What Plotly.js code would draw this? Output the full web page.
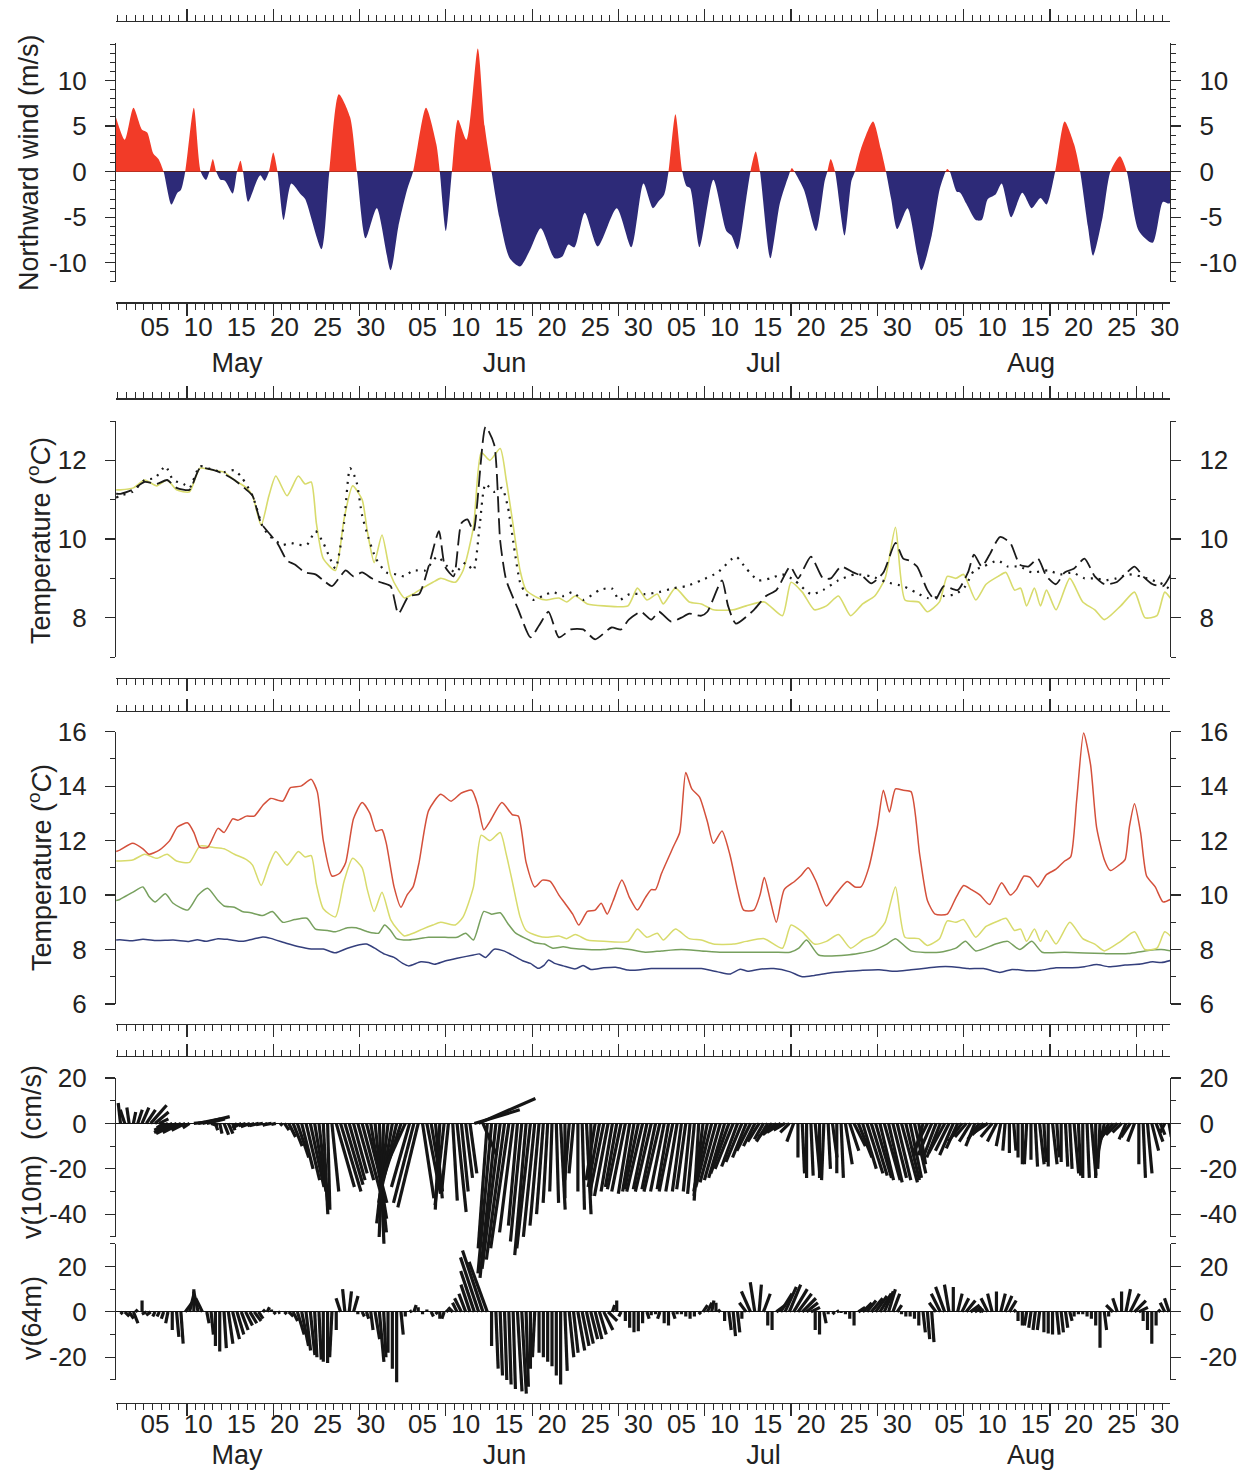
<!DOCTYPE html>
<html><head><meta charset="utf-8">
<script src="https://cdn.plot.ly/plotly-3.0.1.min.js"></script>
<style>html,body{margin:0;padding:0;background:#fff;}#chart{width:1251px;height:1473px;}</style>
</head><body><div id="chart"></div>
<script>
// ===================== DATA (t = days since 1 May) =====================
const windDay = [-0.6,0.5,1.5,2.5,3.1,3.8,4.4,5.0,5.9,6.6,
 7.0,7.5,8.5,9.3,9.9,10.3,10.7,11.1,11.6,12.1,
 13.0,13.5,13.9,14.2,14.8,15.8,16.2,16.7,17.2,17.7,
 18.2,18.9,19.8,20.9,21.4,23.3,24.2,25.3,26.6,27.4,
 28.4,29.7,31.3,32.2,33.2,33.9,35.4,36.6,37.0,37.7,
 38.4,39.1,40.1,41.4,42.2,43.0,43.9,45.1,46.3,47.5,
 48.7,50.3,51.2,51.9,52.6,53.8,55.3,57.5,59.2,60.6,
 61.7,62.4,63.0,63.5,64.3,65.1,65.6,66.0,67.1,68.7,
 70.2,70.8,71.5,72.5,73.0,73.6,74.1,75.3,76.4,77.4,
 77.8,78.1,79.2,80.6,81.6,81.9,82.3,82.8,83.9,84.7,
 85.1,85.8,87.2,88.1,88.7,89.3,90.0,91.2,92.8,94.0,
 94.9,95.6,95.8,96.1,96.9,97.3,98.0,99.1,99.8,100.5,
 101.4,102.1,103.2,104.5,105.6,106.6,107.3,108.3,109.4,110.5,
 111.2,112.1,112.7,113.8,114.7,115.8,116.6,118.0,119.6,120.8,
 121.5,122.0];
const windVal = [6.2,3.5,7.0,4.6,4.3,2.0,1.4,0,-3.6,-2.3,
 -2.0,0,7.0,0,-0.9,0,1.4,0,-0.9,-1.0,
 -2.4,0,1.2,0,-3.3,-1.0,-0.4,-1.0,0,2.1,
 0,-5.3,-1.3,-2.5,-3.0,-8.5,0,8.5,6.0,0,
 -7.3,-4.0,-10.8,-6.0,-2.0,0,7.0,3.0,0,-6.5,
 0,5.7,3.5,13.5,5.0,0,-5.0,-9.5,-10.4,-8.5,
 -6.2,-9.5,-9.3,-8.0,-8.3,-4.5,-8.2,-4.0,-8.3,-1.3,
 -4.0,-3.2,-2.5,0,6.3,0,-1.6,-1.8,-8.3,-0.9,
 -6.5,-7.0,-8.5,-3.0,0,2.2,0,-9.5,-3.5,-0.5,
 0.4,0,-2.0,-6.5,-1.0,0,1.4,0,-7.0,-1.0,
 0,2.5,5.5,2.5,0,-3.0,-6.3,-4.0,-10.8,-7.0,
 -2.0,0,0.3,0,-2.2,-2.3,-3.5,-5.3,-5.3,-3.0,
 -2.5,-1.3,-5.0,-2.3,-4.0,-2.9,-3.6,0,5.5,3.0,
 0,-6.0,-9.2,-5.0,0,1.7,0,-6.5,-7.8,-3.3,
 -3.5,-3.0];

// temperature series shared by both temperature panels (yellow)
const yellowDay = [-0.5,0.0,1.5,2.8,4.2,5.4,6.5,8.0,9.2,10.8,
 12.0,13.2,14.6,15.3,16.3,17.2,18.0,19.3,20.6,21.4,
 22.1,22.7,23.5,24.9,25.9,26.9,28.0,28.6,29.4,30.3,
 31.3,32.2,32.9,33.9,35.0,36.2,37.1,38.8,39.7,40.9,
 41.8,42.8,44.0,44.7,45.4,46.3,47.0,48.4,49.3,50.8,
 51.7,52.7,54.1,56.0,58.8,59.9,61.0,62.2,62.9,64.3,
 65.9,67.3,68.7,71.0,72.5,74.6,76.7,77.7,79.0,80.4,
 81.8,83.2,84.6,86.0,87.4,88.6,89.8,90.9,92.5,93.5,
 94.9,95.8,96.8,97.7,99.1,100.3,101.7,102.6,103.6,104.3,
 105.0,105.9,106.6,107.3,108.4,110.0,111.5,112.9,114.0,115.9,
 117.5,118.7,120.1,121.0,121.8];
const yellowVal = [11.25,11.25,11.3,11.5,11.35,11.5,11.25,11.2,11.8,11.75,
 11.7,11.5,11.3,11.1,10.35,11.1,11.6,11.1,11.6,11.4,
 11.45,10.4,9.5,9.2,10.5,11.35,11.0,10.2,9.4,10.1,
 9.1,8.7,8.5,8.6,8.75,8.9,9.0,8.9,9.2,10.3,
 12.2,12.0,12.3,11.5,10.5,9.2,8.7,8.5,8.45,8.5,
 8.4,8.55,8.35,8.3,8.3,8.75,8.45,8.6,8.35,8.75,
 8.4,8.35,8.2,8.2,8.3,8.4,8.05,8.9,8.65,8.2,
 8.3,8.55,8.05,8.35,8.55,9.0,10.3,8.45,8.4,8.15,
 8.4,9.05,9.0,9.1,8.45,8.85,9.05,9.15,8.7,8.75,
 8.3,8.75,8.3,8.7,8.2,9.0,8.4,8.2,7.95,8.3,
 8.65,8.0,8.05,8.65,8.45];

const dashedDay = [-0.5,0.0,1.4,2.8,4.2,5.4,6.5,8.0,9.2,10.8,
 12.0,13.2,14.6,15.3,16.3,17.4,18.3,19.3,20.2,21.4,
 22.6,23.5,24.5,25.3,26.1,27.0,28.0,29.1,30.1,31.3,
 32.2,33.4,34.6,35.7,36.9,37.6,38.6,39.5,40.2,40.9,
 42.3,43.3,44.0,44.7,46.1,47.5,48.5,49.6,50.8,52.2,
 53.6,55.0,56.9,58.0,58.9,60.3,61.5,62.4,63.8,65.0,
 65.9,67.3,68.0,69.7,70.4,71.3,73.4,74.8,76.0,77.6,
 78.5,80.0,81.4,82.3,83.5,84.9,86.0,87.0,88.4,89.8,
 90.7,91.4,92.3,93.5,94.4,95.4,97.0,98.2,98.9,99.8,
 100.7,101.9,103.1,104.2,105.2,106.3,107.3,108.4,109.4,110.5,
 111.7,112.9,114.0,115.4,116.4,117.5,118.5,119.6,120.8,121.7];
const dashedVal = [11.15,11.15,11.25,11.45,11.4,11.5,11.3,11.25,11.8,11.75,
 11.65,11.5,11.25,11.1,10.4,10.1,9.85,9.45,9.35,9.15,
 9.1,8.95,8.8,9.0,9.2,9.05,9.15,9.0,8.9,8.8,
 8.1,8.55,8.6,9.3,10.2,9.3,9.05,10.4,10.5,10.2,
 12.85,12.4,9.95,8.95,8.2,7.5,7.8,8.15,7.5,7.7,
 7.7,7.45,7.75,7.7,7.95,8.15,7.95,8.15,7.9,8.0,
 8.1,8.05,8.15,8.95,8.3,7.85,8.2,8.55,8.7,9.3,
 9.0,9.55,9.0,9.0,9.3,9.15,9.05,8.87,9.15,9.9,
 9.5,9.45,9.3,8.7,8.45,8.8,8.7,9.15,9.6,9.3,
 9.6,10.05,9.9,9.35,9.3,9.5,9.05,8.85,9.15,9.25,
 9.5,9.05,8.85,8.9,9.1,9.3,9.05,8.85,8.8,9.1];

const dottedDay = [-0.5,-0.08,1.4,2.8,4.0,5.2,6.1,7.3,8.0,9.2,
 10.8,12.0,13.2,14.1,15.3,16.5,17.4,18.8,19.7,20.7,
 21.6,22.6,23.5,24.2,24.9,25.9,26.6,27.3,28.0,28.7,
 29.6,30.8,32.0,32.9,33.9,35.3,36.7,37.9,38.8,40.0,
 40.9,41.6,42.3,43.3,44.2,44.9,45.6,46.3,47.0,47.9,
 48.9,50.1,51.3,52.4,53.6,55.5,56.9,57.8,59.0,60.8,
 62.4,64.1,65.5,67.3,69.2,71.3,72.5,73.9,75.3,76.7,
 78.1,80.0,81.4,83.2,85.1,87.0,88.8,90.7,92.1,93.5,
 95.4,96.8,97.9,98.9,100.0,101.7,102.8,104.2,105.6,107.5,
 108.9,110.3,111.7,113.1,114.0,115.4,116.8,118.2,119.6,120.8,121.7];
const dottedVal = [11.05,11.1,11.2,11.5,11.55,11.85,11.5,11.4,11.3,11.85,
 11.75,11.7,11.75,11.55,11.1,10.3,10.05,9.85,9.9,9.85,
 9.85,10.2,9.9,9.55,9.25,10.4,11.8,11.5,10.6,10.05,
 9.5,9.15,9.1,9.05,9.2,9.2,9.55,9.3,9.15,9.4,
 9.2,10.3,11.4,11.2,11.3,10.8,9.8,8.9,8.6,8.45,
 8.55,8.65,8.55,8.65,8.45,8.7,8.75,8.45,8.6,8.6,
 8.65,8.75,8.8,8.95,9.15,9.55,9.25,8.95,9.0,9.1,
 8.95,8.6,8.7,8.95,9.1,9.05,8.9,8.8,8.65,8.5,
 8.55,8.6,8.8,9.2,9.3,9.45,9.3,9.3,9.15,9.2,
 9.1,9.15,9.0,9.0,8.95,9.0,9.1,9.05,8.95,8.85,8.7];

const redDay = [-0.5,-0.08,1.4,2.6,3.3,4.5,5.7,6.6,7.8,8.5,
 9.2,10.1,11.3,12.0,13.0,13.6,14.6,15.5,16.5,17.4,
 18.8,19.7,20.9,22.1,22.8,23.5,24.5,25.4,26.1,27.0,
 28.0,28.9,29.6,30.3,30.8,31.7,32.5,33.2,33.9,34.6,
 35.7,37.1,38.3,39.5,40.7,41.4,42.1,42.8,44.2,45.4,
 46.1,47.0,48.0,48.9,49.8,50.8,51.5,52.4,53.1,54.1,
 55.0,55.7,56.4,57.1,58.1,59.0,59.9,60.8,61.5,62.0,
 62.7,64.1,64.8,65.5,66.2,67.1,68.0,68.7,69.7,70.6,
 71.5,72.2,73.4,74.1,74.6,75.3,76.0,76.9,78.1,78.8,
 79.7,80.6,81.8,82.8,84.2,85.1,85.8,86.7,87.7,88.4,
 89.1,89.8,90.7,91.6,92.6,93.5,94.4,95.8,96.8,97.7,
 98.6,99.6,100.7,102.1,103.1,103.8,104.7,105.4,106.3,107.3,
 108.4,109.4,110.1,110.8,111.6,112.4,113.1,114.0,114.7,115.7,
 116.4,116.9,117.5,118.2,118.9,119.9,120.8,121.7];
const redVal = [11.6,11.65,11.9,11.7,11.5,11.65,12.0,12.5,12.65,12.3,
 11.75,11.75,12.45,12.3,12.8,12.75,12.9,12.9,13.3,13.55,
 13.45,13.95,14.0,14.25,13.8,12.0,10.7,10.8,11.2,12.8,
 13.4,13.0,12.35,12.4,11.9,10.3,9.55,10.0,10.3,11.2,
 13.1,13.7,13.45,13.75,13.85,13.3,12.4,12.7,13.4,12.95,
 12.9,11.2,10.3,10.55,10.5,10.0,9.7,9.3,8.9,9.4,
 9.45,9.7,9.3,9.8,10.55,9.9,9.45,9.9,10.2,10.2,
 10.8,11.8,12.3,14.5,13.9,13.6,12.7,11.9,12.35,11.5,
 10.2,9.45,9.45,10.0,10.65,9.8,9.0,10.2,10.5,10.7,
 11.0,10.5,9.6,10.0,10.5,10.3,10.3,11.0,12.5,13.85,
 13.05,13.9,13.85,13.8,11.5,9.8,9.3,9.3,9.9,10.35,
 10.2,10.0,9.65,10.45,10.0,10.2,10.7,10.65,10.3,10.75,
 10.95,11.25,11.4,13.5,15.95,14.8,12.5,11.3,10.9,11.1,
 11.3,12.5,13.35,12.3,10.7,10.3,9.75,9.85];

const greenDay = [-0.5,-0.08,1.4,2.6,3.3,4.0,5.2,6.1,7.8,9.0,
 10.1,11.3,12.0,13.2,14.1,15.1,16.5,17.6,18.8,20.2,
 21.6,22.6,24.0,24.9,26.3,27.3,28.7,29.9,30.6,31.3,
 32.0,33.4,35.7,37.6,39.0,40.0,40.9,42.1,43.0,44.0,
 44.9,45.8,47.0,48.0,49.1,50.1,51.3,52.2,54.1,56.0,
 57.4,59.0,60.8,62.7,65.0,67.3,69.7,73.0,75.7,77.6,
 78.6,79.5,80.9,84.2,87.0,88.8,89.8,91.6,94.9,96.8,
 97.9,99.1,101.4,102.8,104.2,105.6,106.8,109.4,114.0,116.8,
 118.7,120.6,121.7];
const greenVal = [9.8,9.84,10.1,10.3,9.95,9.75,10.05,9.7,9.45,10.0,
 10.25,9.8,9.6,9.55,9.4,9.35,9.25,9.4,9.0,9.1,
 9.15,8.75,8.7,8.65,8.8,8.8,8.65,8.6,8.9,8.7,
 8.4,8.35,8.45,8.45,8.45,8.6,8.35,9.4,9.3,9.35,
 8.95,8.6,8.4,8.25,8.2,8.05,8.1,8.05,8.0,8.0,
 8.05,8.0,7.9,7.95,8.0,7.95,7.9,7.9,7.9,7.9,
 8.05,8.35,7.8,7.8,7.95,8.2,8.4,7.95,7.9,8.05,
 8.3,7.95,8.2,8.3,8.0,8.3,7.9,7.9,7.85,7.85,
 7.95,8.0,7.95];

const blueDay = [-0.5,-0.08,1.4,2.6,4.2,6.1,8.0,8.9,9.9,11.3,
 12.5,14.1,15.3,16.5,17.4,19.3,20.7,22.1,23.5,24.9,
 26.3,27.7,28.5,29.4,30.6,31.7,32.7,33.4,34.8,35.7,
 36.4,37.6,39.0,40.9,41.6,42.3,43.3,44.4,45.6,46.6,
 47.5,48.4,49.1,49.6,50.3,51.3,52.7,53.6,54.5,56.0,
 57.4,58.8,60.0,61.5,63.6,67.3,69.2,70.6,71.8,72.7,
 73.9,75.7,77.6,79.0,80.4,82.3,84.2,86.0,87.9,89.8,
 91.6,93.5,94.9,96.3,98.2,100.0,101.9,103.3,105.2,106.6,
 108.4,110.3,111.7,113.1,114.5,116.4,118.2,119.6,120.6,121.7];
const blueVal = [8.35,8.36,8.32,8.38,8.33,8.35,8.3,8.36,8.3,8.4,
 8.37,8.3,8.38,8.46,8.41,8.22,8.1,8.02,8.02,7.88,
 8.05,8.18,8.2,8.06,7.83,7.71,7.49,7.4,7.55,7.52,
 7.46,7.58,7.68,7.8,7.84,7.71,8.01,7.95,7.76,7.59,
 7.49,7.31,7.43,7.62,7.49,7.4,7.29,7.41,7.27,7.33,
 7.35,7.25,7.25,7.3,7.3,7.3,7.18,7.1,7.28,7.2,
 7.27,7.3,7.18,7.0,7.05,7.15,7.2,7.24,7.26,7.2,
 7.26,7.32,7.37,7.37,7.3,7.3,7.16,7.27,7.22,7.24,
 7.33,7.33,7.37,7.45,7.37,7.43,7.47,7.55,7.52,7.6];

// current vectors, every half day from 1 May 00:00 (cm/s)
const stickStepDays = 0.5;
const v10 = [9,6,7,5,6,7,6,8,5,2,
 -2,-3,-4,-4.5,-4,-3,-2,0.5,2,3,
 2,-1,-3,-4.5,-5,-4.5,-3,-2,-1.5,-1,
 -1.5,-1,-1,-0.5,-1,-0.5,-0.5,-1,-3,-6,
 -10,-15,-20,-25,-28,-30,-36,-40,-38,-30,
 -28,-30,-27,-25,-22,-25,-30,-35,-42,-48,
 -53,-50,-44,-35,-30,-25,-20,-28,-35,-37,
 -33,-31,-30,-33,-38,-36,-30,-34,-39,-30,
 -24,-22,6,11,-14,-55,-66,-68,-64,-60,
 -55,-48,-45,-52,-58,-55,-50,-45,-40,-35,
 -30,-35,-38,-33,-25,-22,-30,-38,-40,-32,
 -25,-28,-30,-32,-30,-28,-29,-30,-31,-30,
 -29,-30,-29,-30,-29,-30,-30,-29,-30,-30,
 -30,-29,-30,-31,-34,-32,-30,-28,-26,-25,
 -24,-22,-20,-19,-17,-15,-12,-10,-8,-7,
 -8,-6,-5,-4,-3,-4,-8,-15,-22,-24,
 -23,-22,-24,-25,-20,-15,-22,-24,-18,-12,
 -10,-15,-20,-22,-23,-24,-25,-25,-26,-24,
 -25,-26,-25,-24,-22,-18,-14,-12,-14,-16,
 -15,-13,-12,-14,-11,-8,-6,-8,-10,-7,
 -5,-4,-6,-8,-10,-12,-13,-12,-15,-18,
 -18,-16,-19,-18,-17,-19,-18,-15,-17,-19,
 -20,-22,-23,-24,-24,-23,-24,-20,-14,-8,
 -6,-5,-4,-7,-6,-8,-18,-24,-22,-12,
 -8,-5,-4,-6];
const u10 = [-1,-2,-1,1,2,3,4,7,6,4,
 -3,-6,-8,-9,-8,-6,-3,5,10,12,
 8,3,1,1,2,2,1,-2,-3,-3,
 -4,-3,-4,-3,-2,-3,-2,1,2,3,
 4,5,5,6,6,5,4,2,1,3,
 8,9,8,7,6,7,8,9,7,5,
 2,-2,-5,-6,-7,-8,-9,-8,-9,-9,
 5,6,5,3,-2,-4,-3,2,4,3,
 3,3,20,25,6,-4,-6,-7,-8,-8,
 -8,-6,-4,-5,-5,-6,-5,-4,-3,-2,
 -1,1,2,0,-2,-2,0,1,2,0,
 -4,-5,-6,-6,-5,-5,-6,-6,-5,-5,
 -6,-7,-6,-7,-6,-7,-6,-5,-6,-5,
 -4,-4,-3,-3,-2,-4,-6,-7,-7,-7,
 -7,-8,-8,-7,-7,-6,-6,-5,-5,-4,
 -5,-6,-6,-6,-5,-4,-3,0,1,0,
 1,2,0,-1,1,2,0,1,3,4,
 5,6,6,7,7,7,6,7,6,6,
 6,7,6,5,5,3,-4,-6,-6,-6,
 -6,-7,-6,-6,-5,-6,-5,-5,-4,-5,
 -5,-6,-5,-4,-2,-1,0,1,0,0,
 -1,0,1,2,1,0,2,1,0,1,
 1,2,1,0,1,2,0,-1,-3,-4,
 -5,-5,-4,-3,-4,-3,0,1,2,3,
 3,2,-2,1];
const v64 = [-1,-2,-3,-5,1,5,-1,-1.5,-2,-2,
 -3,-5,-8,-11,-14,4,8,10,9,6,
 -5,-10,-15,-17.5,-16,-14,-12,-10,-8,-6,
 -5,-4,-3,1,2,1,-1,-0.5,-1,-2,
 -4,-10,-15,-17,-19,-20,-21,-22,-22.5,-20,
 -8,6,10,9,7,-1,-2,-3,-8,-12,
 -22,-20,-18,-25,-31,-10,-2,0.5,3,2,
 -1,1,-2,-1,-3,-3,1,2,4,6,
 8,12,18,24,27,22,-15,-25,-28,-30,
 -32,-34,-35,-36,-33,-25,-20,-18,-20,-22,
 -24,-28,-32,-26,-20,-18,-17,-15,-14,-12,
 -12,-10,-8,-4,3,5,-2,-4,-7,-9,
 -8.5,-5,-3,-1.5,-1,-3,-5,-6,-3,-1,
 -1,-2,-3,-2,-1,3,4,5,4,1,
 -4,-8,-10.7,-9,-3,4,9,13,12,8,
 -6,-8,3,8,11,12,10,8,6,4,
 2,-8,-10,-5,-1,-1,0.5,-0.5,-1,-3,
 -6,2,4,5,6,7,8,9,10,8,
 3,-1,-2,-2,-3,-6,-9,-12,-13.3,4,
 8,11,12,11,8,6,5,3,2,1,
 2,6,8,9,8,7,5,1,-4,-6,
 -6,-7,-8,-8,-9,-9.5,-10,-10,-9,-7,
 -4,-2,-1,-1,-2,-3,-6,-15.8,-8,-2,
 3,6,9,10,8,5,2,-4,-8,-14,
 -6,1,4,6];
const u64 = [1,2,2,2,-1,0,-2,-2,-1,-1,
 -1,-1,0,1,1,3,2,0,-2,-3,
 1,1,0,0,1,2,3,3,3,3,
 3,3,2,1,1,0,-1,-1,1,2,
 2,3,3,2,2,1,1,0,0,-1,
 0,-2,-1,1,2,0,1,1,1,2,
 2,1,0,0,0,1,0,1,1,0,
 0,0,1,1,0,-1,-1,-2,-2,-3,
 -3,-4,-6,-8,-9,-8,0,1,1,1,
 1,1,2,2,1,0,-1,0,0,0,
 0,0,0,1,2,2,3,3,3,3,
 3,3,4,4,1,0,-1,0,0,0,
 0,0,1,0,0,-1,0,0,1,0,
 0,0,0,0,1,2,2,1,0,-1,
 0,1,1,1,0,-3,-4,-2,1,3,
 0,0,4,5,5,5,6,6,6,5,
 4,0,0,1,0,1,1,0,0,0,
 0,3,4,4,5,5,5,4,3,3,
 2,0,0,0,0,0,1,1,1,-3,
 -4,-4,-2,0,2,3,4,4,3,2,
 -2,-3,-2,0,2,3,3,1,0,0,
 -1,-1,-1,-1,0,0,0,1,1,1,
 1,0,0,0,0,0,0,0,1,0,
 -3,-2,0,2,4,5,4,0,0,0,
 0,-1,-2,-2];

// axis labels
const dayLabelDays = [4,9,14,19,24,29, 35,40,45,50,55,60, 65,70,75,80,85,90, 96,101,106,111,116,121];
const dayLabelText = ['05','10','15','20','25','30','05','10','15','20','25','30','05','10','15','20','25','30','05','10','15','20','25','30'];
const monthLabelDays = [13.5, 44.5, 74.5, 105.5];
const monthLabelText = ['May','Jun','Jul','Aug'];

// ===================== HELPERS / GEOMETRY =====================
const W = 1251, H = 1473;
const DAY = 86400000;
const BASE = Date.UTC(2001, 4, 1);
function d(t){ const s = new Date(BASE + Math.round(t*DAY)).toISOString(); return s.slice(0,10)+' '+s.slice(11,19); }
function pos(py){ return 1 - py/H; }
const FONT = '"Liberation Sans", Arial, Helvetica, sans-serif';
const AX = '#2b2b2b';
const X0 = 116, X1 = 1170, T_MIN = -0.52, T_MAX = 121.61;
const xDom = [X0/W, X1/W];
const xRange = [d(T_MIN), d(T_MAX)];
const TICK0 = d(7.7);
const pxPerDay = (X1 - X0)/(T_MAX - T_MIN);

// stick panel combined coordinate
const Y4_TOP = 1078, C_MAX = 103, C_MIN = -40, PX_PER_C = 2.2706;
const Y4_BOT = Y4_TOP + (C_MAX - C_MIN)*PX_PER_C;
function cpy(c){ return Y4_TOP + (C_MAX - c)*PX_PER_C; }
const V10_OFF = 83;
const K = PX_PER_C / pxPerDay; // days per cm/s keeps stick angles true

function strip(p, side, overlay){
  const a = {type:'date', range:xRange, anchor:'free', position:p, side:side,
    showline:true, linecolor:AX, linewidth:1.2, ticks:'outside', ticklen:12, tickwidth:1.3, tickcolor:AX,
    tick0:TICK0, dtick:10*DAY, showticklabels:false, showgrid:false, zeroline:false, automargin:false, fixedrange:true,
    minor:{ticks:'outside', ticklen:6, tickwidth:1, tickcolor:AX, tick0:TICK0, dtick:DAY, showgrid:false}};
  if (overlay) a.overlaying = overlay; else a.domain = xDom;
  return a;
}
function labelAx(p, overlay, days, text, standoff, size){
  return {type:'date', range:xRange, overlaying:overlay, anchor:'free', position:p, side:'bottom',
    showline:false, ticks:'', tickmode:'array', tickvals:days.map(d), ticktext:text, tickangle:0,
    tickfont:{family:FONT, size:size, color:'#222'}, ticklabelstandoff:standoff,
    showgrid:false, zeroline:false, automargin:false, fixedrange:true};
}
function tickList(lo, hi, step){ const v=[]; for(let k=Math.ceil(lo/step-1e-9); k*step<=hi+1e-9; k++) v.push(Math.round(k*step*100)/100); return v; }
function yax(domain, range, dtick, mstep, side, anchor, overlay, extra){
  const tv = tickList(range[0], range[1], dtick);
  const a = {type:'linear', range:range, anchor:anchor, side:side, showline:true, linecolor:AX, linewidth:1.2,
    ticks:'outside', ticklen:10, tickwidth:1.2, tickcolor:AX, tickmode:'array', tickvals:tv, ticktext:tv.map(String),
    minor:{tickmode:'linear', tick0:0, dtick:mstep, ticks:'outside', ticklen:5, tickwidth:1, tickcolor:AX, showgrid:false},
    tickfont:{family:FONT, size:26, color:'#222'}, ticklabelstandoff:13,
    showgrid:false, zeroline:false, automargin:false, fixedrange:true};
  if (overlay) a.overlaying = overlay; else a.domain = domain;
  return Object.assign(a, extra||{});
}

// ===================== TRACES =====================
const RED = '#f23b28', NAVY = '#2d2a78';
const traces = [];
traces.push({type:'scatter', mode:'lines', x:windDay.map(d), y:windVal, xaxis:'x', yaxis:'y',
  line:{width:0, shape:'spline', smoothing:0.7, color:'rgba(0,0,0,0)'}, fill:'tozeroy',
  fillgradient:{type:'vertical', colorscale:[[0,NAVY],[0.5,NAVY],[0.5,RED],[1,RED]], start:-0.02, stop:0.02},
  hoverinfo:'skip'});

function line(days, vals, xa, ya, color, width, dash){
  return {type:'scatter', mode:'lines', x:days.map(d), y:vals, xaxis:xa, yaxis:ya,
    line:{color:color, width:width, dash:dash||'solid', shape:'spline', smoothing:0.6}, hoverinfo:'skip'};
}
const YEL = '#d8db6c';
traces.push(line(yellowDay, yellowVal, 'x2', 'y2', YEL, 1.6));
traces.push(line(dottedDay, dottedVal, 'x2', 'y2', '#1a1a1a', 2.2, '2px,6px'));
traces.push(line(dashedDay, dashedVal, 'x2', 'y2', '#1a1a1a', 1.8, '16px,6px'));

traces.push(line(blueDay, blueVal, 'x3', 'y3', '#343f7c', 1.5));
traces.push(line(greenDay, greenVal, 'x3', 'y3', '#77a05e', 1.5));
traces.push(line(yellowDay, yellowVal, 'x3', 'y3', YEL, 1.5));
traces.push(line(redDay, redVal, 'x3', 'y3', '#d4503b', 1.5));

function sticks(u, v, off){
  const xs = [], ys = [];
  for (let i = 0; i < v.length; i++){
    const t = i*stickStepDays;
    xs.push(d(t), d(t + K*u[i]), null);
    ys.push(off, off + v[i], null);
  }
  return {type:'scatter', mode:'lines', x:xs, y:ys, xaxis:'x4', yaxis:'y4',
    line:{color:'#151515', width:3.2}, connectgaps:false, hoverinfo:'skip'};
}
traces.push(sticks(u64, v64, 0));
traces.push(sticks(u10, v10, V10_OFF));

[['x5','y'],['x9','y'],['x11','y'],['x','y5'],['x6','y2'],['x2','y6'],['x7','y3'],['x3','y7'],
 ['x8','y4'],['x10','y4'],['x12','y4'],['x4','y8'],['x4','y9'],['x4','y10'],['x4','y11']].forEach(p=>{
  traces.push({type:'scatter', mode:'lines', x:[], y:[], xaxis:p[0], yaxis:p[1], hoverinfo:'skip', showlegend:false});
});

// ===================== LAYOUT =====================
const zl = {zeroline:true, zerolinecolor:'#111', zerolinewidth:1.2};
const layout = {
  width:W, height:H, margin:{l:0,r:0,t:0,b:0}, paper_bgcolor:'#fff', plot_bgcolor:'rgba(0,0,0,0)',
  showlegend:false, hovermode:false, font:{family:FONT, size:26, color:'#222'},
  xaxis: strip(pos(302.3),'bottom'),
  xaxis2: strip(pos(678),'bottom'),
  xaxis3: strip(pos(1024),'bottom'),
  xaxis4: strip(pos(1403),'bottom'),
  xaxis5: strip(pos(21),'top','x'),
  xaxis6: strip(pos(398.3),'top','x2'),
  xaxis7: strip(pos(711),'top','x3'),
  xaxis8: strip(pos(1056),'top','x4'),
  xaxis9: labelAx(pos(302.3),'x', dayLabelDays, dayLabelText, 7, 26),
  xaxis10: labelAx(pos(1403),'x4', dayLabelDays, dayLabelText, 3, 26),
  xaxis11: labelAx(pos(302.3),'x', monthLabelDays, monthLabelText, 42, 27),
  xaxis12: labelAx(pos(1403),'x4', monthLabelDays, monthLabelText, 33, 27),
  yaxis: yax([pos(282), pos(43.1)], [-12.1, 14.1], 5, 1, 'left', 'x', null, zl),
  yaxis5: yax(null, [-12.1, 14.1], 5, 1, 'right', 'x', 'y'),
  yaxis2: yax([pos(657), pos(421)], [7, 13], 2, 1, 'left', 'x2'),
  yaxis6: yax(null, [7, 13], 2, 1, 'right', 'x2', 'y2'),
  yaxis3: yax([pos(1004), pos(731.7)], [6, 16], 2, 1, 'left', 'x3'),
  yaxis7: yax(null, [6, 16], 2, 1, 'right', 'x3', 'y3'),
  yaxis4: {domain:[pos(Y4_BOT), pos(Y4_TOP)], range:[C_MIN, C_MAX], anchor:'x4', visible:false, fixedrange:true},
  yaxis8: yax([pos(cpy(V10_OFF-50)), pos(cpy(V10_OFF+20))], [-50, 20], 20, 10, 'left', 'x4', null, zl),
  yaxis9: yax(null, [-50, 20], 20, 10, 'right', 'x4', 'y8'),
  yaxis10: yax([pos(cpy(-30)), pos(cpy(30))], [-30, 30], 20, 10, 'left', 'x4', null, zl),
  yaxis11: yax(null, [-30, 30], 20, 10, 'right', 'x4', 'y10'),
  annotations: [
    {text:'Northward wind (m/s)', x:29/W, y:pos(163)},
    {text:'Temperature (<sup>o</sup><i>C</i>)', x:39/W, y:pos(541)},
    {text:'Temperature (<sup>o</sup><i>C</i>)', x:40/W, y:pos(868)},
    {text:'v(10m)  (cm/s)', x:32/W, y:pos(1152)},
    {text:'v(64m)', x:32/W, y:pos(1318)}
  ].map(a => Object.assign({xref:'paper', yref:'paper', showarrow:false, textangle:-90,
      xanchor:'center', yanchor:'middle', font:{family:FONT, size:27, color:'#222'}}, a))
};

Plotly.newPlot('chart', traces, layout, {staticPlot:true, displayModeBar:false});
</script>
</body></html>
